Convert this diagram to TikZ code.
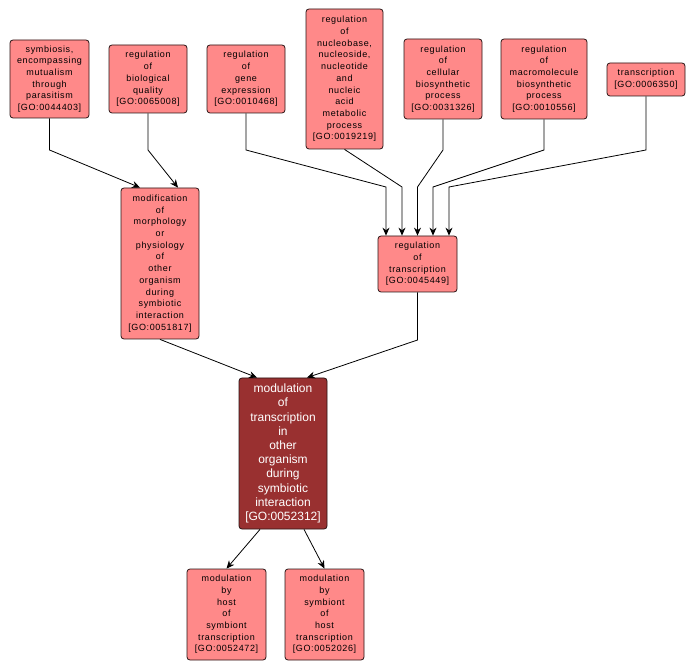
\documentclass[tikz,border=0pt]{standalone}
\usepackage{fontspec}
\setmainfont{Liberation Sans}
\newfontfamily\lightfont[LetterSpace=7]{Liberation Sans}
\usetikzlibrary{arrows.meta}
\definecolor{termfill}{RGB}{255,137,137}
\definecolor{focusfill}{RGB}{153,48,48}
\definecolor{termline}{RGB}{40,20,20}
\tikzset{
  term/.style={draw=termline, fill=termfill, rounded corners=3pt, line width=0.8pt,
    align=center, inner sep=0pt, font=\lightfont\fontsize{9}{11.7}\selectfont},
  focus/.style={term, fill=focusfill, text=white, font=\rmfamily\fontsize{12}{14.2}\selectfont},
  edge/.style={line width=0.8pt, -{Stealth[length=8pt,width=7pt]}}
}
\begin{document}
\begin{tikzpicture}[x=1pt,y=-1pt]
\useasboundingbox (0,0) rectangle (697,671);
\fill[white] (0,0) rectangle (697,671);
\node[term, minimum width=79, minimum height=78] (sym) at (49.5,79) {symbiosis,\\encompassing\\mutualism\\through\\parasitism\\{[GO:0044403]}};
\node[term, minimum width=78, minimum height=68] (bio) at (148,79) {regulation\\of\\biological\\quality\\{[GO:0065008]}};
\node[term, minimum width=78, minimum height=68] (gene) at (246,79) {regulation\\of\\gene\\expression\\{[GO:0010468]}};
\node[term, minimum width=77, minimum height=140] (nuc) at (344.5,79) {regulation\\of\\nucleobase,\\nucleoside,\\nucleotide\\and\\nucleic\\acid\\metabolic\\process\\{[GO:0019219]}};
\node[term, minimum width=78, minimum height=80] (cell) at (443,79) {regulation\\of\\cellular\\biosynthetic\\process\\{[GO:0031326]}};
\node[term, minimum width=86, minimum height=80] (macro) at (544,79) {regulation\\of\\macromolecule\\biosynthetic\\process\\{[GO:0010556]}};
\node[term, minimum width=78, minimum height=33] (tr) at (646,79.5) {transcription\\{[GO:0006350]}};
\node[term, minimum width=78, minimum height=151] (mod) at (160,263.5) {modification\\of\\morphology\\or\\physiology\\of\\other\\organism\\during\\symbiotic\\interaction\\{[GO:0051817]}};
\node[term, minimum width=79, minimum height=56] (reg) at (417.5,264) {regulation\\of\\transcription\\{[GO:0045449]}};
\node[focus, minimum width=88, minimum height=151] (foc) at (283,453.5) {modulation\\of\\transcription\\in\\other\\organism\\during\\symbiotic\\interaction\\{[GO:0052312]}};
\node[term, minimum width=79, minimum height=91] (host) at (226.5,614.5) {modulation\\by\\host\\of\\symbiont\\transcription\\{[GO:0052472]}};
\node[term, minimum width=79, minimum height=91] (symb) at (324.5,614.5) {modulation\\by\\symbiont\\of\\host\\transcription\\{[GO:0052026]}};
\draw[edge] (sym.south) -- (49.5,150) -- ([xshift=-20pt]mod.north);
\draw[edge] (bio.south) -- (148,150) -- ([xshift=18pt]mod.north);
\draw[edge] (gene.south) -- (246,150) -- (386,187) -- ([xshift=-31.5pt]reg.north);
\draw[edge] (nuc.south) -- (402,187) -- ([xshift=-15.5pt]reg.north);
\draw[edge] (cell.south) -- (443,150) -- (417.5,187) -- (reg.north);
\draw[edge] (macro.south) -- (544,150) -- (433,187) -- ([xshift=15.5pt]reg.north);
\draw[edge] (tr.south) -- (646,150) -- (449,187) -- ([xshift=31.5pt]reg.north);
\draw[edge] (mod.south) -- ([xshift=-26pt]foc.north);
\draw[edge] (reg.south) -- (417.5,340) -- ([xshift=24pt]foc.north);
\draw[edge] ([xshift=-23pt]foc.south) -- (host.north);
\draw[edge] ([xshift=21pt]foc.south) -- (symb.north);
\end{tikzpicture}
\end{document}
